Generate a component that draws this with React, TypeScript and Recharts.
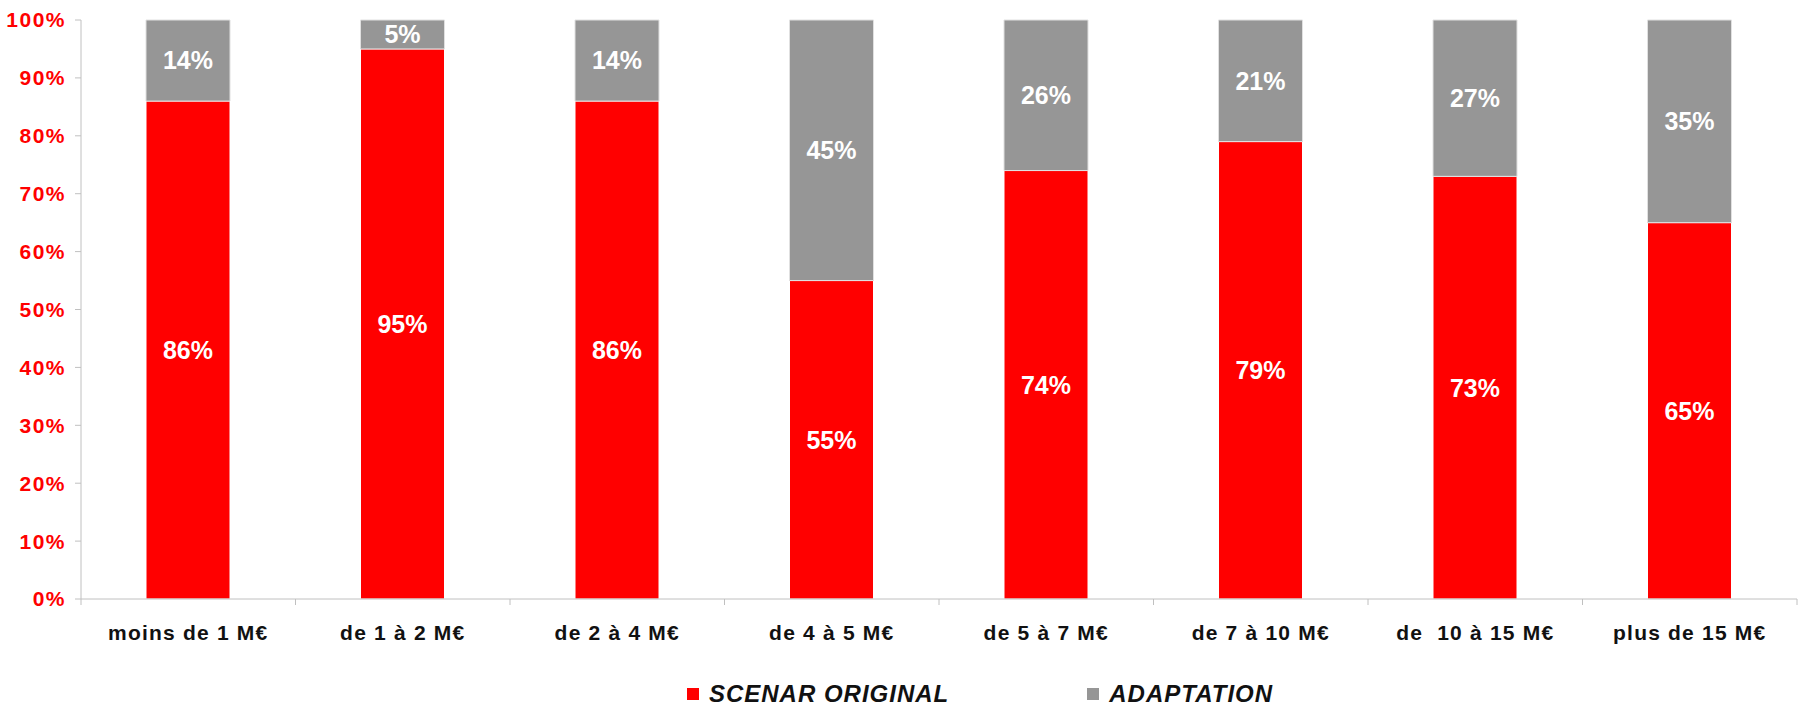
import { BarChart, Bar, XAxis, YAxis, Legend, LabelList } from 'recharts';

const categories = [
  'moins de 1 M€',
  'de 1 à 2 M€',
  'de 2 à 4 M€',
  'de 4 à 5 M€',
  'de 5 à 7 M€',
  'de 7 à 10 M€',
  'de  10 à 15 M€',
  'plus de 15 M€',
];
const scenarOriginal = [86, 95, 86, 55, 74, 79, 73, 65];
const adaptation = [14, 5, 14, 45, 26, 21, 27, 35];
const yTicks = [0, 10, 20, 30, 40, 50, 60, 70, 80, 90, 100];

const FONT = '"Liberation Sans", Arial, sans-serif';
const RED = '#ff0000';
const GREY = '#969696';
const AXIS = '#c0c0c0';

const data = categories.map((name, i) => ({
  name,
  scenar: scenarOriginal[i],
  adapt: adaptation[i],
}));

// category label + tick mark at the left edge of each band (and the right end)
function CategoryTick(props: any) {
  const { x, y, payload, index } = props;
  const half = payload && payload.offset ? payload.offset : 107.25;
  const last = index === categories.length - 1;
  return (
    <g>
      <line x1={x - half} x2={x - half} y1={y - 8} y2={y - 2} stroke={AXIS} />
      {last && <line x1={x + half} x2={x + half} y1={y - 8} y2={y - 2} stroke={AXIS} />}
      <text
        x={x}
        y={y + 25}
        textAnchor="middle"
        dominantBaseline="central"
        fill="#111"
        fontFamily={FONT}
        fontWeight="bold"
        fontSize={21}
        letterSpacing={1.2}
        style={{ whiteSpace: 'pre' }}
      >
        {payload.value}
      </text>
    </g>
  );
}

function LegendBox() {
  const items = [
    { label: 'SCENAR ORIGINAL', color: RED },
    { label: 'ADAPTATION', color: GREY },
  ];
  return (
    <div
      style={{
        display: 'flex',
        justifyContent: 'center',
        alignItems: 'flex-end',
        height: 51,
        paddingLeft: 160,
        gap: 138,
        fontFamily: FONT,
      }}
    >
      {items.map((it) => (
        <div key={it.label} style={{ display: 'flex', alignItems: 'center', height: 24 }}>
          <span style={{ width: 12, height: 12, background: it.color, marginRight: 10, display: 'inline-block' }} />
          <span style={{ fontSize: 24, fontWeight: 'bold', fontStyle: 'italic', letterSpacing: 1, color: '#111' }}>
            {it.label}
          </span>
        </div>
      ))}
    </div>
  );
}

export default function App() {
  return (
    <div style={{ position: 'absolute', left: 0, top: 0, width: 1800, height: 708, background: '#fff' }}>
      <BarChart width={1800} height={708} data={data} margin={{ top: 20, right: 3, left: 0, bottom: 0 }}>
        <YAxis
          width={81}
          domain={[0, 100]}
          ticks={yTicks}
          interval={0}
          tickFormatter={(v: number) => `${v}%`}
          axisLine={{ stroke: AXIS }}
          tickLine={{ stroke: AXIS }}
          tickSize={6}
          tickMargin={9}
          tick={{ fill: RED, fontFamily: FONT, fontWeight: 'bold', fontSize: 21, letterSpacing: 1.5 }}
        />
        <XAxis
          dataKey="name"
          height={56}
          interval={0}
          axisLine={{ stroke: AXIS }}
          tickLine={false}
          tick={<CategoryTick />}
        />
        <Legend verticalAlign="bottom" height={53} content={<LegendBox />} wrapperStyle={{ left: 0, width: 1800, bottom: 0 }} />
        <Bar dataKey="scenar" stackId="a" fill={RED} barSize={84} stroke="#ffffff" strokeWidth={1} isAnimationActive={false}>
          <LabelList
            dataKey="scenar"
            position="center"
            formatter={(v: any) => `${v}%`}
            fill="#ffffff"
            style={{ fontFamily: FONT, fontWeight: 'bold', fontSize: 25 }}
          />
        </Bar>
        <Bar dataKey="adapt" stackId="a" fill={GREY} barSize={84} stroke="#e0e0e0" strokeWidth={1} isAnimationActive={false}>
          <LabelList
            dataKey="adapt"
            position="center"
            formatter={(v: any) => `${v}%`}
            fill="#ffffff"
            style={{ fontFamily: FONT, fontWeight: 'bold', fontSize: 25 }}
          />
        </Bar>
      </BarChart>
    </div>
  );
}
